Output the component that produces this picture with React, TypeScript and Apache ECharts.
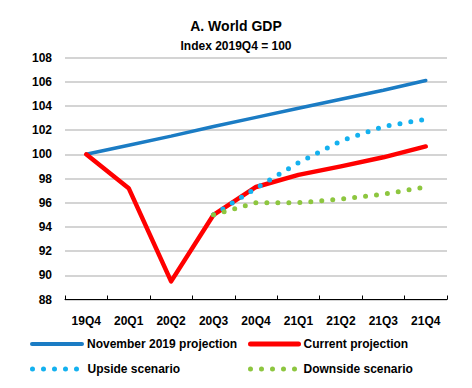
import React, { useEffect, useRef } from "react";
import * as echarts from "echarts";

const categories = ["19Q4", "20Q1", "20Q2", "20Q3", "20Q4", "21Q1", "21Q2", "21Q3", "21Q4"];
const nov2019 = [100, 100.75, 101.5, 102.3, 103.05, 103.8, 104.55, 105.3, 106.1];
const current = [100, 97.2, 89.5, 95.0, 97.3, 98.3, 99.0, 99.75, 100.65];
const upside = [null, null, null, 95.0, 97.2, 99.3, 101.1, 102.3, 102.9];
const downside = [null, null, null, 95.0, 96.0, 96.0, 96.3, 96.7, 97.3];
const yTicks = { min: 88, max: 108, interval: 2 };

const FONT = "Arial, 'Liberation Sans', sans-serif";

export default function App() {
  const ref = useRef<HTMLDivElement>(null);
  useEffect(() => {
    const chart = echarts.init(ref.current!, null, { renderer: "svg" });
    const legendText = { fontFamily: FONT, fontWeight: "bold", fontSize: 12, color: "#000" };
    const legendBase = {
      itemHeight: 14,
      padding: 0,
      textStyle: legendText,
      itemStyle: { opacity: 0 },
    };
    chart.setOption({
      animation: false,
      backgroundColor: "#fff",
      title: [
        {
          text: "A. World GDP",
          left: "center",
          top: 14,
          textStyle: { fontFamily: FONT, fontSize: 14, fontWeight: "bold", color: "#000" },
        },
        {
          text: "Index 2019Q4 = 100",
          left: "center",
          top: 35,
          textStyle: { fontFamily: FONT, fontSize: 12, fontWeight: "bold", color: "#000" },
        },
      ],
      legend: [
        { ...legendBase, data: ["November 2019 projection"], left: 30, top: 338, itemWidth: 50, lineStyle: { width: 4, cap: "round", opacity: 1 } },
        { ...legendBase, data: ["Current projection"], left: 248, top: 338, itemWidth: 48, lineStyle: { width: 5, cap: "round", opacity: 1 } },
        { ...legendBase, data: ["Upside scenario"], left: 30, top: 363, itemWidth: 50, lineStyle: { width: 5, type: [0, 11], cap: "round", opacity: 1 } },
        { ...legendBase, data: ["Downside scenario"], left: 248, top: 363, itemWidth: 48, lineStyle: { width: 5, type: [0, 11], cap: "round", opacity: 1 } },
      ],
      grid: { left: 65, right: 25, top: 57.5, bottom: 88.5, containLabel: false },
      xAxis: {
        type: "category",
        data: categories,
        boundaryGap: true,
        axisLine: { lineStyle: { color: "#000", width: 1 } },
        axisTick: { show: true, inside: true, length: 4, lineStyle: { color: "#000" } },
        axisLabel: { fontFamily: FONT, fontWeight: "bold", fontSize: 12, color: "#000", margin: 15 },
      },
      yAxis: {
        type: "value",
        min: yTicks.min,
        max: yTicks.max,
        interval: yTicks.interval,
        axisLine: { show: false },
        axisTick: { show: false },
        axisLabel: { fontFamily: FONT, fontWeight: "bold", fontSize: 12, color: "#000", margin: 13 },
        splitLine: { lineStyle: { color: "#d4d4d4", width: 2 } },
      },
      series: [
        {
          name: "November 2019 projection",
          type: "line",
          data: nov2019,
          symbol: "none",
          color: "#1b7cc4",
          lineStyle: { color: "#1b7cc4", width: 3.5, cap: "round" },
          z: 2,
        },
        {
          name: "Current projection",
          type: "line",
          data: current,
          symbol: "none",
          color: "#ff0000",
          lineStyle: { color: "#ff0000", width: 4.5, cap: "round", join: "round" },
          z: 3,
        },
        {
          name: "Upside scenario",
          type: "line",
          data: upside,
          symbol: "none",
          color: "#14b1ef",
          lineStyle: { color: "#14b1ef", width: 5, type: [0, 11], cap: "round" },
          z: 4,
        },
        {
          name: "Downside scenario",
          type: "line",
          data: downside,
          symbol: "none",
          color: "#8dc63f",
          lineStyle: { color: "#8dc63f", width: 5, type: [0, 11], cap: "round" },
          z: 4,
        },
      ],
    });
    return () => chart.dispose();
  }, []);
  return <div ref={ref} style={{ width: 472, height: 388, position: "absolute", left: 0, top: 0 }} />;
}
